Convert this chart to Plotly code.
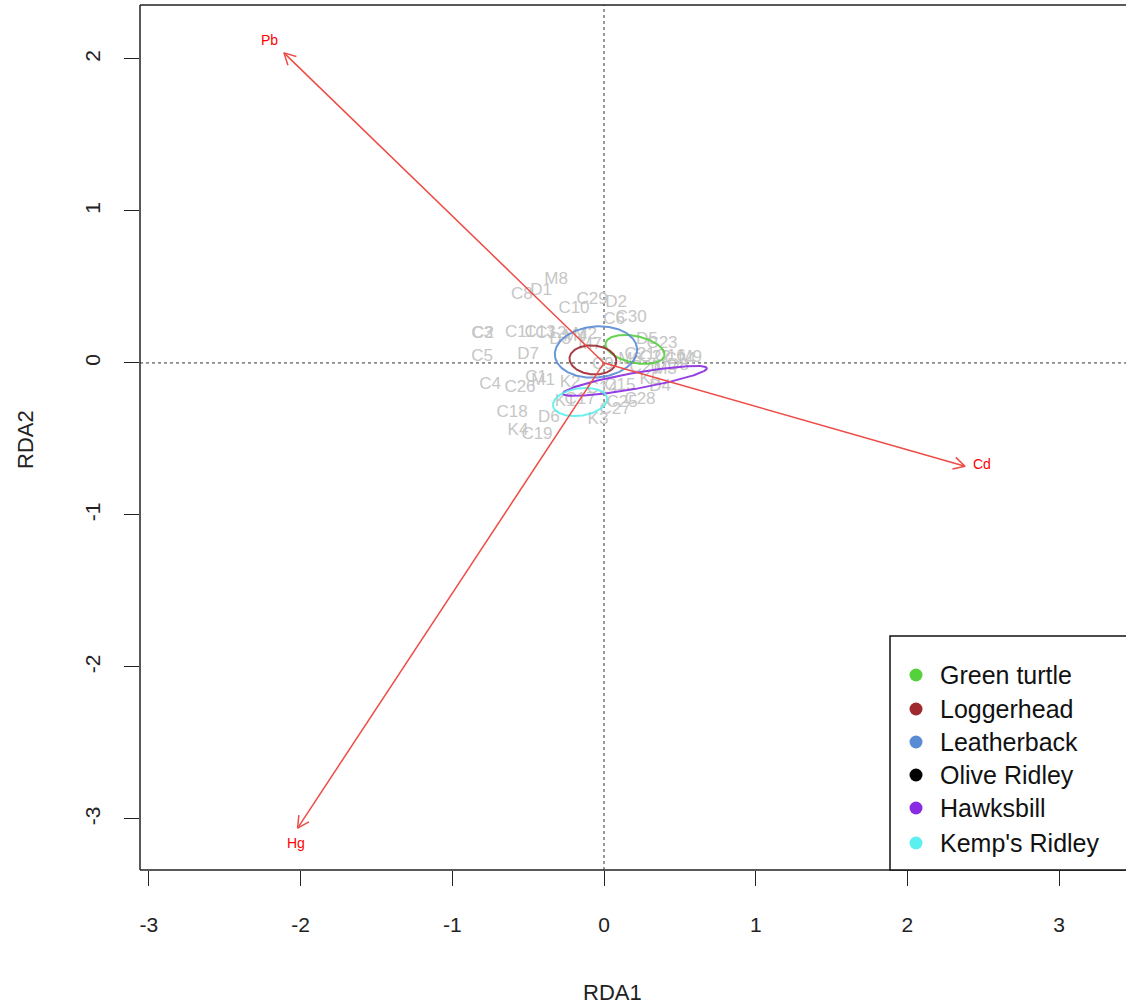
import numpy as np
import plotly.graph_objects as go

# ---- site scores (RDA1, RDA2) ----
site_labels = ["M8", "C8", "D1", "C10", "C29", "D2", "C6", "C30", "C3", "C2",
               "C11", "C13", "D3", "M4", "M2", "C5", "D7", "C4", "C26", "C1",
               "M1", "C18", "D6", "K4", "C19", "K3", "K1", "K2", "C17", "C15",
               "C14", "C25", "C28", "C27", "D4", "D5", "C23", "C21", "C22", "C16",
               "C24", "M9", "C20", "M3", "D8", "M6", "C9", "M7", "K5", "C12"]
site_x = [-0.316, -0.541, -0.415, -0.198, -0.079, 0.079, 0.066, 0.178, -0.804, -0.798,
          -0.554, -0.422, -0.290, -0.191, -0.125, -0.804, -0.501, -0.751, -0.554, -0.448,
          -0.402, -0.606, -0.363, -0.567, -0.442, -0.040, -0.257, -0.224, -0.158, 0.105,
          -0.013, 0.119, 0.237, 0.073, 0.369, 0.283, 0.382, 0.237, 0.336, 0.435,
          0.501, 0.567, 0.270, 0.402, 0.488, 0.171, -0.007, -0.092, 0.303, -0.350]
site_y = [0.546, 0.447, 0.474, 0.355, 0.414, 0.395, 0.283, 0.296, 0.191, 0.191,
          0.197, 0.197, 0.151, 0.171, 0.184, 0.039, 0.053, -0.145, -0.164, -0.099,
          -0.118, -0.329, -0.362, -0.447, -0.474, -0.375, -0.257, -0.132, -0.243, -0.151,
          -0.171, -0.263, -0.243, -0.309, -0.158, 0.151, 0.125, 0.053, 0.033, 0.039,
          0.020, 0.033, -0.033, -0.046, -0.020, 0.020, -0.013, 0.118, -0.112, 0.190]

# ---- environmental biplot arrows ----
env_names = ["Pb", "Cd", "Hg"]
env_x = [-2.11, 2.38, -2.02]
env_y = [2.04, -0.68, -3.06]

# ---- species groups and their dispersion ellipses ----
groups = ["Green turtle", "Loggerhead", "Leatherback", "Olive Ridley", "Hawksbill", "Kemp's Ridley"]
group_colors = ["#55D13E", "#9E2A2F", "#5A8CD6", "#000000", "#8A2BE2", "#5CEFEF"]
ell_cx = [0.204, -0.073, -0.053, None, 0.204, -0.158]
ell_cy = [0.089, 0.020, 0.072, None, -0.118, -0.257]
ell_a = [0.198, 0.155, 0.272, None, 0.482, 0.180]
ell_b = [0.088, 0.095, 0.168, None, 0.052, 0.090]
ell_angle = [-12, -5, 5, None, 10, 8]

# ---- axis ticks ----
x_ticks = [-3, -2, -1, 0, 1, 2, 3]
y_ticks = [-3, -2, -1, 0, 1, 2]

# ---- frame geometry (pixels) ----
W, H = 1126, 1007
ML, MR, MT, MB = 140, 0, 5, 137
XR = [-3.059, 3.441]
YR = [-3.336, 2.355]
PW, PH = W - ML - MR, H - MT - MB

ARROW_COL = "#EE4B45"
FONT = "Liberation Sans, Arial, sans-serif"


def px_paper(px, py):
    return (px - ML) / PW, (H - MB - py) / PH


fig = go.Figure()

# zero reference lines
fig.add_shape(type="line", x0=0, x1=0, y0=0, y1=1, xref="x", yref="paper",
              line=dict(color="#333", width=1, dash="dot"), layer="below")
fig.add_shape(type="line", x0=0, x1=1, y0=0, y1=0, xref="paper", yref="y",
              line=dict(color="#333", width=1, dash="dot"), layer="below")

# site labels
fig.add_trace(go.Scatter(x=site_x, y=site_y, mode="text", text=site_labels,
                         textfont=dict(family=FONT, size=17, color="#c6c6c6"),
                         hoverinfo="skip", showlegend=False))

# ellipses
t = np.linspace(0, 2 * np.pi, 200)
for cx, cy, a, b, ang, col in zip(ell_cx, ell_cy, ell_a, ell_b, ell_angle, group_colors):
    if cx is None:
        continue
    th = np.deg2rad(ang)
    ex = cx + a * np.cos(t) * np.cos(th) - b * np.sin(t) * np.sin(th)
    ey = cy + a * np.cos(t) * np.sin(th) + b * np.sin(t) * np.cos(th)
    fig.add_trace(go.Scatter(x=ex, y=ey, mode="lines", line=dict(color=col, width=2),
                             opacity=0.9, hoverinfo="skip", showlegend=False))

# arrows with open heads
head_len = 0.085
head_ang = np.deg2rad(28)
label_shift = {"Pb": (-14, 13), "Cd": (17, 2), "Hg": (-2, -15)}
for name, ax_, ay_ in zip(env_names, env_x, env_y):
    fig.add_trace(go.Scatter(x=[0, ax_], y=[0, ay_], mode="lines",
                             line=dict(color=ARROW_COL, width=1.5),
                             hoverinfo="skip", showlegend=False))
    d = np.arctan2(-ay_, -ax_)
    hx = [ax_ + head_len * np.cos(d + head_ang), ax_, ax_ + head_len * np.cos(d - head_ang)]
    hy = [ay_ + head_len * np.sin(d + head_ang), ay_, ay_ + head_len * np.sin(d - head_ang)]
    fig.add_trace(go.Scatter(x=hx, y=hy, mode="lines",
                             line=dict(color=ARROW_COL, width=1.5),
                             hoverinfo="skip", showlegend=False))
    sx, sy = label_shift[name]
    fig.add_annotation(x=ax_, y=ay_, text=name, showarrow=False, xshift=sx, yshift=sy,
                       font=dict(family=FONT, size=14, color="#FF0000"))

# plot frame (left, top, bottom)
for x0, y0, x1, y1 in [(0, 0, 1.02, 0), (0, 1, 1.02, 1), (0, 0, 0, 1)]:
    fig.add_shape(type="line", x0=x0, y0=y0, x1=x1, y1=y1, xref="paper", yref="paper",
                  line=dict(color="#222", width=1.5))

# legend box
lx0, ly0 = px_paper(890, 636)
fig.add_shape(type="rect", x0=lx0, y0=0, x1=1.05, y1=ly0, xref="paper", yref="paper",
              line=dict(color="#111", width=1.5), fillcolor="white", layer="above")
row_py = [675, 709, 742, 775, 808, 843]
for g, col, py in zip(groups, group_colors, row_py):
    dx, dy = px_paper(916, py)
    fig.add_shape(type="circle", xref="paper", yref="paper", xsizemode="pixel",
                  ysizemode="pixel", xanchor=dx, yanchor=dy, x0=-6.5, x1=6.5, y0=-6.5, y1=6.5,
                  fillcolor=col, line=dict(width=0), layer="above")
    tx, ty = px_paper(938, py)
    fig.add_annotation(x=tx, y=ty, xref="paper", yref="paper", text=g, showarrow=False,
                       xanchor="left", yanchor="middle",
                       font=dict(family=FONT, size=25, color="#111"))

# axis titles
ax1x, ax1y = px_paper(612, 992)
fig.add_annotation(x=ax1x, y=ax1y, xref="paper", yref="paper", text="RDA1", showarrow=False,
                   xanchor="center", yanchor="middle",
                   font=dict(family=FONT, size=22, color="#222"))
ax2x, ax2y = px_paper(25, 440)
fig.add_annotation(x=ax2x, y=ax2y, xref="paper", yref="paper", text="RDA2", showarrow=False,
                   xanchor="center", yanchor="middle",
                   textangle=-90, font=dict(family=FONT, size=22, color="#222"))

fig.update_layout(
    width=W, height=H, margin=dict(l=ML, r=MR, t=MT, b=MB),
    plot_bgcolor="white", paper_bgcolor="white", showlegend=False,
    xaxis=dict(range=XR, tickvals=x_ticks, ticktext=[str(v) for v in x_ticks],
               ticks="outside", ticklen=15,
               tickcolor="#222", tickwidth=1, showgrid=False, zeroline=False, showline=False,
               tickfont=dict(family=FONT, size=21, color="#222"), ticklabelstandoff=21),
    yaxis=dict(range=YR, tickvals=y_ticks, ticktext=[str(v) for v in y_ticks],
               ticks="outside", ticklen=15,
               tickcolor="#222", tickwidth=1, showgrid=False, zeroline=False, showline=False,
               tickangle=-90, tickfont=dict(family=FONT, size=21, color="#222"),
               ticklabelstandoff=16),
)

fig.write_html("out.html")
